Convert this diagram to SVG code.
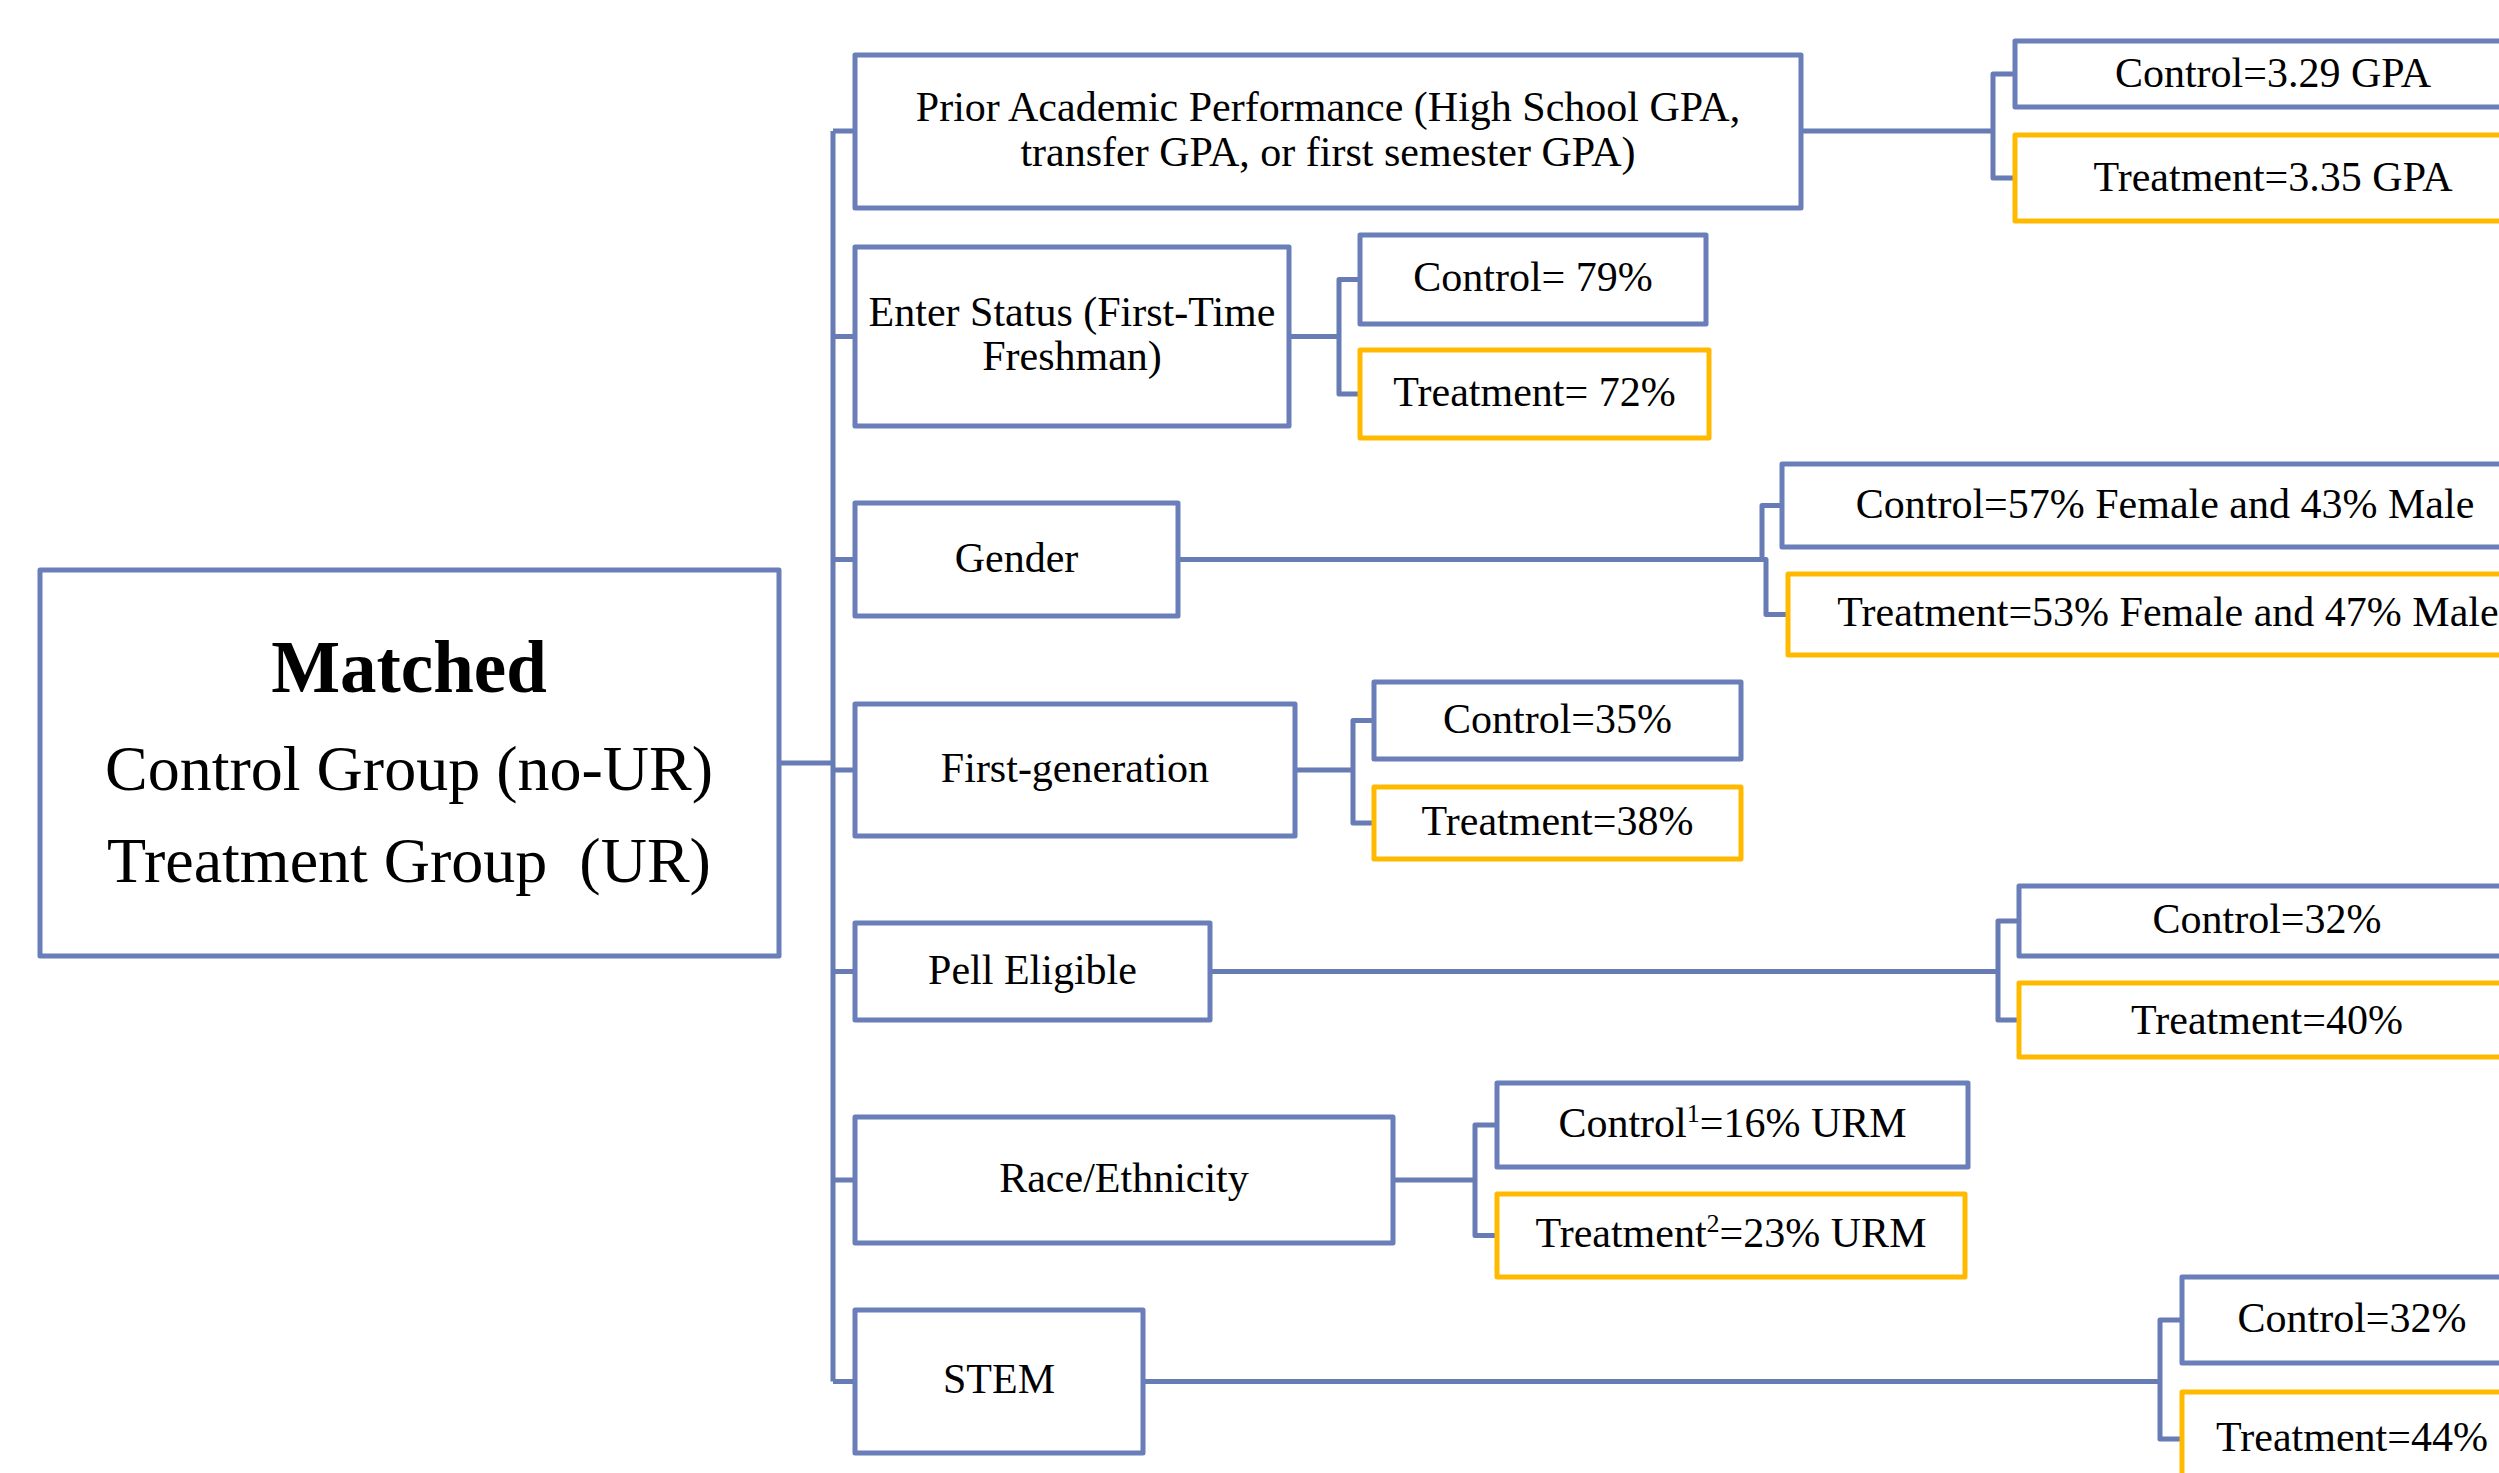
<svg xmlns="http://www.w3.org/2000/svg" width="2499" height="1473" viewBox="0 0 2499 1473">
<style>
  .box { fill: #ffffff; stroke: #6A7FB9; stroke-width: 5; stroke-linejoin: round; }
  .tr { fill: #ffffff; stroke: #FFBA00; stroke-width: 5; stroke-linejoin: round; }
  .con { fill: none; stroke: #677BB4; stroke-width: 5; stroke-linejoin: round; }
  text { font-family: "Liberation Serif", "Times New Roman", serif; fill: #000000; text-anchor: middle; }
  .t { font-size: 42px; }
  .big { font-size: 64px; }
  .title { font-size: 73px; font-weight: bold; }
  .sup { font-size: 26px; }
</style>
<rect width="2499" height="1473" fill="#ffffff"/>
<g id="connectors">
  <path class="con" d="M779 763 H833"/>
  <path class="con" d="M833 131 V1381.5"/>
  <path class="con" d="M833 131 H855 M833 336.5 H855 M833 559.5 H855 M833 770 H855 M833 971.5 H855 M833 1180 H855 M833 1381.5 H855"/>
  <path class="con" d="M1801 131 H1993 V74 H2015 M1993 131 V178 H2015"/>
  <path class="con" d="M1289 336.5 H1339 V279.5 H1360 M1339 336.5 V394 H1360"/>
  <path class="con" d="M1178 559.5 H1762 V505.5 H1782 M1762 559.5 H1766 V614.5 H1788"/>
  <path class="con" d="M1295 770 H1353 V720.5 H1374 M1353 770 V823 H1374"/>
  <path class="con" d="M1210 971.5 H1998 V921 H2019 M1998 971.5 V1020 H2019"/>
  <path class="con" d="M1393 1180 H1475 V1125 H1497 M1475 1180 V1235.5 H1497"/>
  <path class="con" d="M1143 1381.5 H2160 V1320 H2182 M2160 1381.5 V1439 H2182"/>
</g>
<g id="root">
  <rect class="box" x="40" y="570" width="739" height="386"/>
  <text class="title" x="409" y="692">Matched</text>
  <text class="big" x="409" y="790">Control Group (no-UR)</text>
  <text class="big" x="409" y="882" xml:space="preserve">Treatment Group  (UR)</text>
</g>
<g id="prior">
  <rect class="box" x="855" y="55" width="946" height="153"/>
  <text class="t" x="1328" y="121">Prior Academic Performance (High School GPA,</text>
  <text class="t" x="1328" y="166">transfer GPA, or first semester GPA)</text>
</g>
<g id="prior-control">
  <rect class="box" x="2015" y="41" width="516" height="66"/>
  <text class="t" x="2273" y="87">Control=3.29 GPA</text>
</g>
<g id="prior-treatment">
  <rect class="tr" x="2015" y="135" width="516" height="86"/>
  <text class="t" x="2273" y="191">Treatment=3.35 GPA</text>
</g>
<g id="enter">
  <rect class="box" x="855" y="247" width="434" height="179"/>
  <text class="t" x="1072" y="326">Enter Status (First-Time</text>
  <text class="t" x="1072" y="370">Freshman)</text>
</g>
<g id="enter-control">
  <rect class="box" x="1360" y="235" width="346" height="89"/>
  <text class="t" x="1533" y="291">Control= 79%</text>
</g>
<g id="enter-treatment">
  <rect class="tr" x="1360" y="350" width="349" height="88"/>
  <text class="t" x="1534.5" y="406">Treatment= 72%</text>
</g>
<g id="gender">
  <rect class="box" x="855" y="503" width="323" height="113"/>
  <text class="t" x="1016.5" y="572">Gender</text>
</g>
<g id="gender-control">
  <rect class="box" x="1782" y="464" width="766" height="83"/>
  <text class="t" x="2165" y="518">Control=57% Female and 43% Male</text>
</g>
<g id="gender-treatment">
  <rect class="tr" x="1788" y="574" width="760" height="81"/>
  <text class="t" x="2168" y="626">Treatment=53% Female and 47% Male</text>
</g>
<g id="firstgen">
  <rect class="box" x="855" y="704" width="440" height="132"/>
  <text class="t" x="1075" y="782">First-generation</text>
</g>
<g id="firstgen-control">
  <rect class="box" x="1374" y="682" width="367" height="77"/>
  <text class="t" x="1557.5" y="733">Control=35%</text>
</g>
<g id="firstgen-treatment">
  <rect class="tr" x="1374" y="787" width="367" height="72"/>
  <text class="t" x="1557.5" y="835">Treatment=38%</text>
</g>
<g id="pell">
  <rect class="box" x="855" y="923" width="355" height="97"/>
  <text class="t" x="1032.5" y="984">Pell Eligible</text>
</g>
<g id="pell-control">
  <rect class="box" x="2019" y="886" width="496" height="70"/>
  <text class="t" x="2267" y="933">Control=32%</text>
</g>
<g id="pell-treatment">
  <rect class="tr" x="2019" y="983" width="496" height="74"/>
  <text class="t" x="2267" y="1034">Treatment=40%</text>
</g>
<g id="race">
  <rect class="box" x="855" y="1117" width="538" height="126"/>
  <text class="t" x="1124" y="1192">Race/Ethnicity</text>
</g>
<g id="race-control">
  <rect class="box" x="1497" y="1083" width="471" height="84"/>
  <text class="t" x="1732.5" y="1137">Control<tspan class="sup" dy="-15">1</tspan><tspan dy="15">=16% URM</tspan></text>
</g>
<g id="race-treatment">
  <rect class="tr" x="1497" y="1194" width="468" height="83"/>
  <text class="t" x="1731" y="1247">Treatment<tspan class="sup" dy="-15">2</tspan><tspan dy="15">=23% URM</tspan></text>
</g>
<g id="stem">
  <rect class="box" x="855" y="1310" width="288" height="143"/>
  <text class="t" x="999" y="1393">STEM</text>
</g>
<g id="stem-control">
  <rect class="box" x="2182" y="1277" width="340" height="86"/>
  <text class="t" x="2352" y="1332">Control=32%</text>
</g>
<g id="stem-treatment">
  <rect class="tr" x="2182" y="1392" width="340" height="94"/>
  <text class="t" x="2352" y="1451">Treatment=44%</text>
</g>
</svg>
